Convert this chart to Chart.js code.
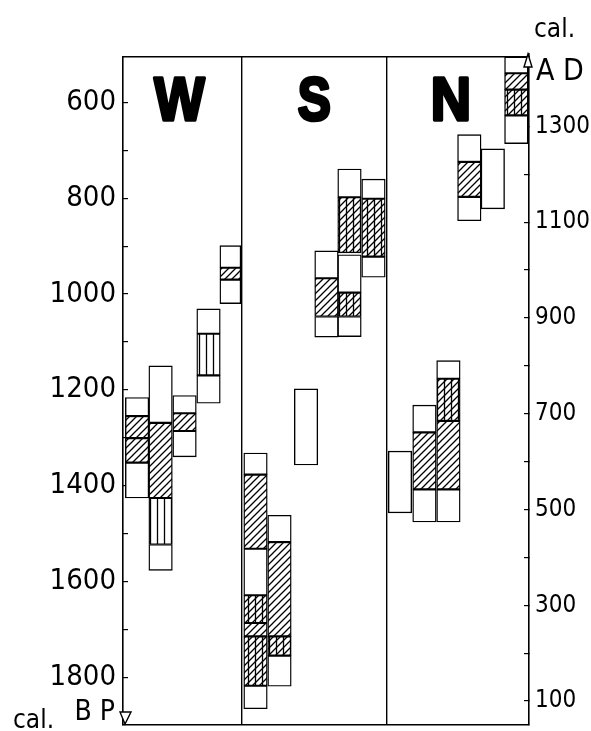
<!DOCTYPE html>
<html><head><meta charset="utf-8">
<script src="https://cdn.jsdelivr.net/npm/chart.js@4/dist/chart.umd.min.js"></script>
<style>html,body{margin:0;padding:0;background:#fff;}#wrap{width:591px;height:731px;}</style>
</head><body><div id="wrap"><canvas id="c" width="591" height="731"></canvas></div>
<script>
// ---- data (cal. BP) ----
const bpTicks = [600,700,800,900,1000,1100,1200,1300,1400,1500,1600,1700,1800];
const bpLabels = [600,800,1000,1200,1400,1600,1800];
const adTicks = [100,200,300,400,500,600,700,800,900,1000,1100,1200,1300];
const adLabels = [100,300,500,700,900,1100,1300];
const panels = ['W','S','N'];
const panelDividers = [5.06, 11.23];
const columnNames = ['W1','W2','W3','W4','W5','S1','S2','S3','S4','S5','S6','N1','N2','N3','N4','N5','N6'];
const columnX = [0.60,1.60,2.62,3.64,4.57,5.64,6.66,7.79,8.66,9.64,10.66,11.79,12.83,13.85,14.74,15.74,16.74];
// segments: [from BP, to BP, fill]  o=open, d=diagonal, v=vertical, x=diagonal+vertical
const segW1 = [[1216,1255,'o'],[1255,1301,'d'],[1301,1352,'d'],[1352,1426,'o']];
const segW2 = [[1150,1269,'o'],[1269,1426,'d'],[1426,1523,'v'],[1523,1577,'o']];
const segW3 = [[1212,1249,'o'],[1249,1286,'d'],[1286,1340,'o']];
const segW4 = [[1031,1083,'o'],[1083,1170,'v'],[1170,1228,'o']];
const segW5 = [[899,945,'o'],[945,970,'d'],[970,1020,'o']];
const segS1 = [[1332,1377,'o'],[1377,1532,'d'],[1532,1629,'o'],[1629,1687,'x'],[1687,1715,'d'],[1715,1818,'x'],[1818,1866,'o']];
const segS2 = [[1462,1518,'o'],[1518,1715,'d'],[1715,1755,'x'],[1755,1819,'o']];
const segS3 = [[1198,1357,'o']];
const segS4 = [[910,967,'o'],[967,1047,'d'],[1047,1090,'o']];
const segS5 = [[739,798,'o'],[798,914,'x'],[918,997,'o'],[997,1047,'x'],[1047,1089,'o']];
const segS6 = [[760,801,'o'],[801,922,'x'],[922,965,'o']];
const segN1 = [[1328,1457,'o']];
const segN2 = [[1232,1289,'o'],[1289,1408,'d'],[1408,1476,'o']];
const segN3 = [[1139,1177,'o'],[1177,1265,'x'],[1265,1408,'d'],[1408,1476,'o']];
const segN4 = [[667,724,'o'],[724,797,'d'],[797,847,'o']];
const segN5 = [[697,822,'o']];
const segN6 = [[505,539,'o'],[539,573,'d'],[573,627,'x'],[627,686,'o']];
const allSegs = [segW1,segW2,segW3,segW4,segW5,segS1,segS2,segS3,segS4,segS5,segS6,segN1,segN2,segN3,segN4,segN5,segN6];

// ---- fill patterns ----
function makePattern(kind){
  if (kind === 'o') return '#fff';
  const s = 7;
  const cv = document.createElement('canvas'); cv.width = s; cv.height = s;
  const g = cv.getContext('2d');
  g.fillStyle = '#fff'; g.fillRect(0,0,s,s);
  g.strokeStyle = '#000'; g.lineWidth = 1.3;
  if (kind === 'd' || kind === 'x') {
    g.beginPath();
    g.moveTo(-1,s+1); g.lineTo(s+1,-1);
    g.moveTo(-1,1); g.lineTo(1,-1);
    g.moveTo(s-1,s+1); g.lineTo(s+1,s-1);
    g.stroke();
  }
  if (kind === 'v' || kind === 'x') {
    g.beginPath(); g.moveTo(3.5,0); g.lineTo(3.5,s); g.stroke();
  }
  return g.createPattern(cv,'repeat');
}
const fills = {o: makePattern('o'), d: makePattern('d'), v: makePattern('v'), x: makePattern('x')};

const datasets = allSegs.map((segs,i) => ({
  label: columnNames[i],
  data: segs.map(s => ({x: columnX[i], y: [s[0], s[1]]})),
  backgroundColor: segs.map(s => fills[s[2]]),
  borderColor: '#000',
  borderWidth: 1.4,
  borderSkipped: false,
  barThickness: columnNames[i] === 'W5' ? 21 : 23.5,
  grouped: false,
  yAxisID: 'y'
}));

const FAM = '"DejaVu Sans Condensed","Liberation Sans Narrow","DejaVu Sans"';
const textPlugin = {
  id: 'txt',
  afterDraw(chart){
    const {ctx, chartArea: a, scales} = chart;
    const xs = scales.x;
    const b = [a.left, ...panelDividers.map(v => xs.getPixelForValue(v)), a.right];
    const shift = [-3, 0, -7];
    const squeeze = [0.86, 0.8, 0.9];
    ctx.save();
    ctx.fillStyle = '#000'; ctx.strokeStyle = '#000';
    ctx.textBaseline = 'alphabetic'; ctx.textAlign = 'center';
    panels.forEach((p,i) => {
      ctx.save();
      ctx.translate((b[i]+b[i+1])/2 + shift[i], 120);
      ctx.scale(squeeze[i],1);
      ctx.font = 'bold 62px "Liberation Sans"';
      ctx.fillText(p, 0, 0);
      ctx.lineWidth = 3.5; ctx.lineJoin = 'round';
      ctx.strokeText(p, 0, 0);
      ctx.restore();
    });
    ctx.textAlign = 'left';
    ctx.font = '26px ' + FAM;
    ctx.fillText('cal.', a.right + 5, 37);
    ctx.fillText('cal.', 13, 728);
    ctx.font = '30px ' + FAM;
    ctx.fillText('A D', a.right + 7, 80);
    ctx.textAlign = 'right';
    ctx.font = '28px ' + FAM;
    ctx.fillText('B P', a.left - 8, 720);
    // arrows
    ctx.lineWidth = 1.4; ctx.fillStyle = '#fff';
    ctx.beginPath(); ctx.moveTo(a.right, a.top - 4); ctx.lineTo(a.right, a.top); ctx.stroke();
    ctx.beginPath();
    ctx.moveTo(a.right - 1, a.top - 3); ctx.lineTo(a.right - 5, a.top + 10); ctx.lineTo(a.right + 3, a.top + 10); ctx.closePath();
    ctx.fill(); ctx.stroke();
    ctx.beginPath();
    ctx.moveTo(a.left + 2, a.bottom - 1); ctx.lineTo(a.left - 3, a.bottom - 13); ctx.lineTo(a.left + 8, a.bottom - 13); ctx.closePath();
    ctx.fill(); ctx.stroke();
    ctx.restore();
  }
};

new Chart(document.getElementById('c'), {
  type: 'bar',
  data: {datasets},
  options: {
    responsive: false, animation: false, devicePixelRatio: 1,
    layout: {padding: 0},
    plugins: {legend: {display: false}, tooltip: {enabled: false}},
    scales: {
      x: {
        type: 'linear', position: 'bottom', min: 0, max: 17.28, offset: false,
        afterBuildTicks: s => { s.ticks = panelDividers.map(v => ({value: v})); },
        afterFit: s => { s.height = 6; s.paddingLeft = 0; s.paddingRight = 0; },
        ticks: {display: false},
        grid: {offset: false, drawTicks: false, color: '#000', lineWidth: 1.4},
        border: {display: true, color: '#000', width: 1.6}
      },
      x2: {
        type: 'linear', position: 'top', min: 0, max: 17.28, offset: false,
        afterFit: s => { s.height = 57; s.paddingLeft = 0; s.paddingRight = 0; },
        ticks: {display: false}, grid: {display: false},
        border: {display: true, color: '#000', width: 1.6}
      },
      y: {
        type: 'linear', position: 'left', reverse: true, min: 505, max: 1900,
        afterBuildTicks: s => { s.ticks = bpTicks.map(v => ({value: v})); },
        afterFit: s => { s.width = 123; s.paddingTop = 0; s.paddingBottom = 0; },
        ticks: {autoSkip: false, padding: 12, color: '#000',
          font: {size: 29, family: FAM},
          callback: v => bpLabels.includes(v) ? String(v) : ''},
        grid: {drawOnChartArea: false, tickLength: -5, color: '#000', lineWidth: 1.2},
        border: {display: true, color: '#000', width: 1.6}
      },
      y2: {
        type: 'linear', position: 'right', min: 50, max: 1445,
        afterBuildTicks: s => { s.ticks = adTicks.map(v => ({value: v})); },
        afterFit: s => { s.width = 62; s.paddingTop = 0; s.paddingBottom = 0; },
        ticks: {autoSkip: false, padding: 11, color: '#000',
          font: {size: 24, family: FAM},
          callback: v => adLabels.includes(v) ? String(v) : ''},
        grid: {drawOnChartArea: false, tickLength: -5, color: '#000', lineWidth: 1.2},
        border: {display: true, color: '#000', width: 1.6}
      }
    }
  },
  plugins: [textPlugin]
});
</script></body></html>
